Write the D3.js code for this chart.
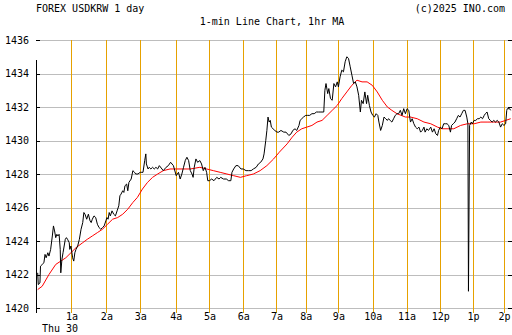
<!DOCTYPE html>
<html><head><meta charset="utf-8">
<script src="https://cdn.jsdelivr.net/npm/d3@7"></script>
<style>
html,body{margin:0;padding:0;background:#fff;}
svg{display:block;}
text{font-family:"DejaVu Sans Mono",monospace;font-size:10px;fill:#000;}
</style></head>
<body><svg id="c" width="512" height="335"></svg>
<script>
// ---- data (x = minutes since session start) ----
const titleLeft = "FOREX USDKRW 1 day";
const titleRight = "(c)2025 INO.com";
const subtitle = "1-min Line Chart, 1hr MA";
const dayLabel = "Thu 30";
const yTicks = [1420,1422,1424,1426,1428,1430,1432,1434,1436];
const hourTickMinutes = [60,122,182,245,305,365,424,476,534,595,655,715,773,828];
const hourTickLabels = ["1a","2a","3a","4a","5a","6a","7a","8a","9a","10a","11a","12p","1p","2p"];
const priceMinutes = [0,1,4,5,8,11,13,15,18,20,23,26,28,30,32,34,36,38,40,41,43,45,49,51,53,56,57,59,62,64,66,68,71,74,77,80,82,84,87,90,93,95,97,100,103,106,109,112,115,118,121,123,125,127,129,132,135,138,141,144,146,148,151,153,155,158,160,162,166,169,172,174,178,182,185,187,190,192,193,196,198,201,204,207,210,213,216,223,228,232,236,241,246,250,253,256,259,262,265,268,271,274,276,278,281,284,288,291,294,297,300,302,305,309,313,318,322,325,330,335,339,343,345,348,352,356,361,365,370,374,379,383,388,392,396,400,402,405,407,409,411,413,415,418,421,425,428,432,437,441,446,450,453,457,460,464,466,469,472,476,479,483,487,491,495,499,503,508,510,512,515,517,520,523,526,529,532,534,537,540,543,546,549,552,555,558,561,564,567,570,573,575,578,581,584,586,589,592,595,598,601,604,606,609,612,615,618,621,623,626,629,632,635,638,641,644,647,650,653,656,659,662,665,668,671,674,677,680,683,686,688,691,694,698,701,704,707,710,712,715,718,721,724,727,730,733,735,738,741,744,747,750,753,756,759,762,764,765,767,770,772,775,778,781,784,787,790,793,795,798,801,804,807,810,813,816,819,822,825,828,831,833,834,838,840];
const priceValues = [1422.1,1421.4,1421.5,1422.5,1422.6,1422.7,1423.2,1423.0,1423.3,1423.1,1423.5,1424.3,1424.9,1424.6,1424.2,1424.4,1424.3,1424.4,1423.5,1422.1,1422.9,1423.3,1424.1,1424.2,1424.1,1423.9,1423.5,1423.7,1423.0,1422.8,1423.3,1423.5,1423.7,1424.1,1424.7,1425.1,1425.7,1425.6,1425.3,1425.6,1425.2,1425.1,1425.3,1425.5,1425.4,1425.0,1424.8,1424.7,1424.8,1424.9,1425.2,1425.4,1425.3,1425.7,1425.5,1425.8,1425.6,1425.5,1425.8,1426.1,1426.7,1426.8,1427.0,1426.9,1427.3,1427.4,1427.0,1427.5,1427.7,1428.2,1428.1,1428.0,1428.0,1428.1,1428.1,1428.1,1428.8,1429.2,1428.6,1428.3,1428.4,1428.3,1428.4,1428.3,1428.4,1428.3,1428.5,1428.2,1428.4,1428.5,1428.7,1428.5,1427.9,1428.1,1427.7,1428.0,1428.4,1428.8,1429.0,1428.8,1428.2,1428.0,1427.8,1428.4,1428.9,1428.7,1428.8,1428.6,1428.2,1428.4,1428.1,1427.6,1427.6,1427.7,1427.6,1427.8,1427.7,1427.8,1427.7,1427.7,1427.6,1427.6,1428.1,1428.3,1428.5,1428.5,1428.3,1428.3,1428.2,1428.2,1428.2,1428.3,1428.4,1428.6,1428.7,1428.9,1429.2,1430.0,1430.6,1431.4,1431.1,1431.2,1430.8,1430.7,1430.6,1430.5,1430.5,1430.6,1430.5,1430.5,1430.3,1430.4,1430.6,1430.7,1430.6,1430.9,1431.2,1431.3,1431.4,1431.5,1431.5,1431.5,1431.6,1431.6,1431.7,1431.7,1431.7,1431.7,1433.0,1433.4,1432.8,1433.1,1432.5,1432.4,1433.4,1433.2,1433.5,1433.2,1433.8,1434.2,1434.1,1434.7,1435.0,1434.9,1434.4,1433.9,1433.4,1433.5,1433.2,1432.7,1431.7,1432.4,1432.2,1432.9,1432.2,1432.7,1432.1,1431.7,1431.5,1431.4,1431.6,1431.5,1431.1,1430.6,1430.9,1431.4,1431.3,1431.2,1431.3,1431.2,1431.1,1431.3,1431.5,1431.6,1431.6,1431.8,1431.5,1431.9,1431.6,1431.9,1431.8,1431.1,1431.3,1431.0,1430.8,1430.7,1430.8,1430.5,1430.6,1430.8,1430.5,1430.7,1430.6,1430.8,1430.5,1430.7,1430.4,1430.3,1430.6,1430.8,1430.7,1431.0,1431.0,1431.0,1430.9,1430.5,1430.9,1431.0,1431.1,1431.3,1431.5,1431.4,1431.6,1431.8,1431.8,1431.4,1431.0,1421.0,1430.9,1431.1,1431.0,1431.2,1431.2,1431.3,1431.3,1431.4,1431.3,1431.5,1431.6,1431.7,1431.3,1431.2,1431.1,1431.2,1431.1,1431.2,1431.1,1430.8,1431.0,1430.9,1431.0,1431.8,1431.9,1431.9,1431.8];
const maMinutes = [0,8,20,32,41,50,59,68,80,88,97,106,115,124,133,142,151,160,169,177,186,195,204,213,223,235,247,259,271,288,300,312,324,336,348,360,371,383,395,407,419,429,443,452,460,469,478,487,496,505,514,523,532,540,549,558,567,576,585,594,603,612,621,629,638,653,662,674,686,698,710,718,727,739,751,763,775,787,798,810,822,831,840];
const maValues = [1421.1,1421.3,1422.0,1422.6,1422.8,1423.0,1423.3,1423.6,1423.9,1424.1,1424.3,1424.5,1424.7,1425.0,1425.3,1425.4,1425.6,1425.9,1426.3,1426.6,1427.1,1427.5,1427.8,1428.0,1428.2,1428.3,1428.3,1428.3,1428.3,1428.4,1428.3,1428.2,1428.1,1428.0,1427.9,1427.8,1427.9,1428.0,1428.2,1428.5,1428.9,1429.3,1429.8,1430.2,1430.5,1430.7,1430.8,1430.9,1431.1,1431.2,1431.5,1431.8,1432.1,1432.5,1432.9,1433.3,1433.6,1433.5,1433.5,1433.3,1432.9,1432.4,1432.0,1431.8,1431.6,1431.4,1431.4,1431.3,1431.1,1431.0,1430.8,1430.7,1430.7,1430.7,1430.9,1431.0,1431.0,1431.1,1431.1,1431.1,1431.1,1431.2,1431.3];

// ---- drawing ----
const svg = d3.select("#c");
const x = d3.scaleLinear().domain([0, 840]).range([37.7, 510.7]);
const y = d3.scaleLinear().domain([1420, 1436]).range([308, 40]);
const gx0 = 40, gx1 = 508;

// horizontal grid
svg.append("g").selectAll("line").data(yTicks).join("line")
  .attr("x1", gx0).attr("x2", gx1)
  .attr("y1", d => Math.round(y(d)) + 0.5).attr("y2", d => Math.round(y(d)) + 0.5)
  .attr("stroke", "#bdbdbd").attr("stroke-width", 1);
// left / right tick dashes
svg.append("g").selectAll("line").data(yTicks).join("line")
  .attr("x1", 36).attr("x2", 40)
  .attr("y1", d => Math.round(y(d)) + 0.5).attr("y2", d => Math.round(y(d)) + 0.5)
  .attr("stroke", "#000");
svg.append("g").selectAll("line").data(yTicks).join("line")
  .attr("x1", 508).attr("x2", 512)
  .attr("y1", d => Math.round(y(d)) + 0.5).attr("y2", d => Math.round(y(d)) + 0.5)
  .attr("stroke", "#000");
// hour verticals
svg.append("g").selectAll("line").data(hourTickMinutes).join("line")
  .attr("x1", d => Math.round(x(d)) + 0.5).attr("x2", d => Math.round(x(d)) + 0.5)
  .attr("y1", y(1436)).attr("y2", 313)
  .attr("stroke", "#e6a100").attr("stroke-width", 1);
// left axis line
svg.append("line").attr("x1", 36.5).attr("x2", 36.5).attr("y1", 60).attr("y2", 313).attr("stroke", "#000");

// y labels
svg.append("g").selectAll("text").data(yTicks).join("text")
  .attr("x", 29).attr("y", d => y(d)).attr("dy", "0.35em").attr("text-anchor", "end")
  .text(d => d);
// x labels
svg.append("g").selectAll("text").data(hourTickMinutes).join("text")
  .attr("x", d => x(d) + 0.5).attr("y", 320).attr("text-anchor", "middle")
  .text((d, i) => hourTickLabels[i]);
svg.append("text").attr("x", 42).attr("y", 332).text(dayLabel);

// titles
svg.append("text").attr("x", 36).attr("y", 12).text(titleLeft);
svg.append("text").attr("x", 505).attr("y", 12).attr("text-anchor", "end").text(titleRight);
svg.append("text").attr("x", 272).attr("y", 25).attr("text-anchor", "middle").text(subtitle);

// series
const price = priceMinutes.map((m, i) => [m, priceValues[i]]);
const ma = maMinutes.map((m, i) => [m, maValues[i]]);
const line = d3.line().x(d => x(d[0])).y(d => y(d[1]));
svg.append("path").datum(ma).attr("d", line).attr("fill", "none").attr("stroke", "#ff0000").attr("stroke-width", 1);
svg.append("path").datum(price).attr("d", line).attr("fill", "none").attr("stroke", "#000").attr("stroke-width", 1);
</script></body></html>
